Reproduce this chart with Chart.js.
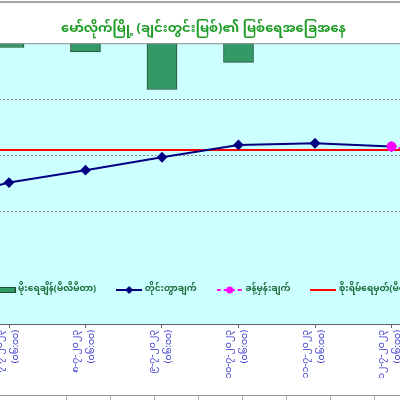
<!DOCTYPE html>
<html><head><meta charset="utf-8">
<script src="https://cdn.jsdelivr.net/npm/chart.js@4.4.0/dist/chart.umd.min.js"></script>
<style>
html,body{margin:0;padding:0;background:#fff;overflow:hidden;width:400px;height:400px;}
#c{position:absolute;left:-57px;top:0;}
#topline{position:absolute;left:0;top:1px;width:400px;height:2px;background:#a6a6a6;z-index:2;}
#tbl{position:absolute;left:0;top:395px;width:400px;height:5px;border-top:1px solid #9a9a9a;
 background-image:repeating-linear-gradient(90deg,transparent 0 21.5px,#b0b0b0 21.5px 22.5px,transparent 22.5px 44.1px);}
</style></head>
<body>
<canvas id="c" width="521" height="395" style="width:521px;height:395px"></canvas>
<div id="topline"></div>
<div id="tbl"></div>
<script>
const DATES = ['၆-၇-၂၀၂၃','၇-၇-၂၀၂၃','၈-၇-၂၀၂၃','၉-၇-၂၀၂၃','၁၀-၇-၂၀၂၃','၁၁-၇-၂၀၂၃','၁၂-၇-၂၀၂၃','၁၃-၇-၂၀၂၃'];
const TIMES = ['(၀၆:၀၀)','(၀၆:၀၀)','(၀၆:၀၀)','(၀၆:၀၀)','(၀၆:၀၀)','(၀၆:၀၀)','(၀၆:၀၀)','(၀၆:၀၀)'];
const RAINFALL = [0, 3.7, 7.5, 39.9, 16.6, 0, 0, null];
const OBSERVED = [13.17, 13.52, 13.74, 13.97, 14.19, 14.22, 14.16, null];
const FORECAST = [null, null, null, null, null, null, 14.16, 13.9];
const DANGER = [14.1, 14.1, 14.1, 14.1, 14.1, 14.1, 14.1, 14.1];
const LEVEL_GRID = [15, 14, 13];
const SERIES = ['မိုးရေချိန်(မီလီမီတာ)','တိုင်းတွာချက်','ခန့်မှန်းချက်','စိုးရိမ်ရေမှတ်(မီတာ)'];
const TITLE = 'မော်လိုက်မြို့ (ချင်းတွင်းမြစ်)၏ မြစ်ရေအခြေအနေ';

const MM = "'Noto Sans Myanmar','Padauk','Myanmar Text','Noto Sans',sans-serif";
const pts = arr => arr.map((v,i)=>({x:i,y:v}));

function sym(kind){
  const c=document.createElement('canvas'); c.width=26; c.height=10;
  const g=c.getContext('2d');
  if(kind===0){ g.fillStyle='#339966'; g.fillRect(0,2.5,26,5); g.strokeStyle='#1f4f33'; g.lineWidth=1; g.strokeRect(0.5,2.5,25,5); }
  if(kind===1){ g.strokeStyle='#000080'; g.lineWidth=2; g.beginPath(); g.moveTo(0,5); g.lineTo(26,5); g.stroke();
    g.fillStyle='#000080'; g.beginPath(); g.moveTo(13,1); g.lineTo(17,5); g.lineTo(13,9); g.lineTo(9,5); g.closePath(); g.fill(); }
  if(kind===2){ g.strokeStyle='#ff00ff'; g.lineWidth=2; g.setLineDash([4,3]); g.beginPath(); g.moveTo(0,5); g.lineTo(26,5); g.stroke();
    g.fillStyle='#ff00ff'; g.beginPath(); g.arc(13,5,3.5,0,Math.PI*2); g.fill(); }
  if(kind===3){ g.strokeStyle='#ff0000'; g.lineWidth=2; g.beginPath(); g.moveTo(0,5); g.lineTo(26,5); g.stroke(); }
  return c;
}
const SYMS=[0,1,2,3].map(sym);

const XMIN = 1 - 66/76.5, XMAX = XMIN + 521/76.5;

const bgPlugin = {
  id:'bg',
  beforeDraw(chart){
    const {ctx, chartArea} = chart; const xs = chart.scales.x;
    ctx.save(); ctx.fillStyle='#ccffff';
    ctx.fillRect(0, chartArea.top, chart.width, xs.top - chartArea.top);
    ctx.restore();
  },
  afterDatasetsDraw(chart){
    const {ctx, chartArea} = chart;
    ctx.save(); ctx.strokeStyle='#8c8c8c'; ctx.lineWidth=1;
    ctx.beginPath(); ctx.moveTo(0, chartArea.top+0.5); ctx.lineTo(chart.width, chartArea.top+0.5); ctx.stroke();
    ctx.restore();
  }
};

new Chart(document.getElementById('c'), {
  type:'bar',
  data:{ datasets:[
    {type:'line', label:SERIES[1], data:pts(OBSERVED), yAxisID:'y', borderColor:'#000080', borderWidth:2,
      pointStyle:'rectRot', pointRadius:4, pointBackgroundColor:'#000080', pointBorderColor:'#000080', order:1},
    {type:'line', label:SERIES[2], data:pts(FORECAST), yAxisID:'y', borderColor:'#ff00ff', borderWidth:2, borderDash:[4,3],
      pointStyle:'circle', pointRadius:4, pointBackgroundColor:'#ff00ff', pointBorderColor:'#ff00ff', order:0},
    {type:'line', label:SERIES[3], data:pts(DANGER), yAxisID:'y', borderColor:'#ff0000', borderWidth:2, pointRadius:0, order:2},
    {type:'bar', label:SERIES[0], data:pts(RAINFALL), yAxisID:'y2', backgroundColor:'#339966', borderColor:'#1f4f33',
      borderWidth:1, barThickness:30, order:3}
  ]},
  options:{
    responsive:false, animation:false, devicePixelRatio:1,
    layout:{padding:0, autoPadding:false},
    plugins:{
      tooltip:{enabled:false},
      title:{display:true, text:TITLE, color:'#1c9c24', font:{family:MM, size:13, weight:'bold'}, padding:{top:23,bottom:4.6}},
      legend:{position:'bottom', weight:1000,
        labels:{usePointStyle:true, pointStyleWidth:22, padding:22, color:'#1e6b3a',
          font:{family:MM, size:9, weight:'bold'},
          generateLabels:()=>SERIES.map((t,i)=>({text:t, pointStyle:SYMS[i], fontColor:'#1e6b3a', lineWidth:0, hidden:false, datasetIndex:[3,0,1,2][i]}))}}
    },
    scales:{
      x:{type:'linear', position:'bottom', weight:2000, min:XMIN, max:XMAX, offset:false,
        afterBuildTicks(s){ s.ticks = DATES.map((d,i)=>({value:i})).filter(t=>t.value>=XMIN && t.value<=XMAX); },
        afterFit(s){ s.height = 71; s.paddingLeft = 0; s.paddingRight = 0; },
        grid:{offset:false, drawOnChartArea:false, drawTicks:true, tickLength:4, color:'#606060'},
        border:{display:true, color:'#606060', width:1},
        ticks:{autoSkip:false, minRotation:90, maxRotation:90, padding:2, labelOffset:-8, color:'#3333cc',
          font:{family:MM, size:9.4, lineHeight:1.7}, callback:(v)=>[DATES[v], TIMES[v]]}},
      sp:{type:'linear', axis:'x', position:'bottom', weight:1500, display:true, offset:false,
        grid:{display:false}, ticks:{display:false}, border:{display:false},
        afterFit(s){ s.height = 19.5; }},
      y:{type:'linear', position:'left', min:12.08, max:16,
        afterBuildTicks(s){ s.ticks = LEVEL_GRID.map(v=>({value:v})); },
        afterFit(s){ s.width = 0; },
        grid:{color:'#8a8a8a', lineWidth:1, drawTicks:false}, border:{display:false, dash:[2,2]},
        ticks:{display:false}},
      y2:{type:'linear', position:'right', reverse:true, min:0, max:190, display:false}
    }
  },
  plugins:[bgPlugin]
});
</script>
</body></html>
